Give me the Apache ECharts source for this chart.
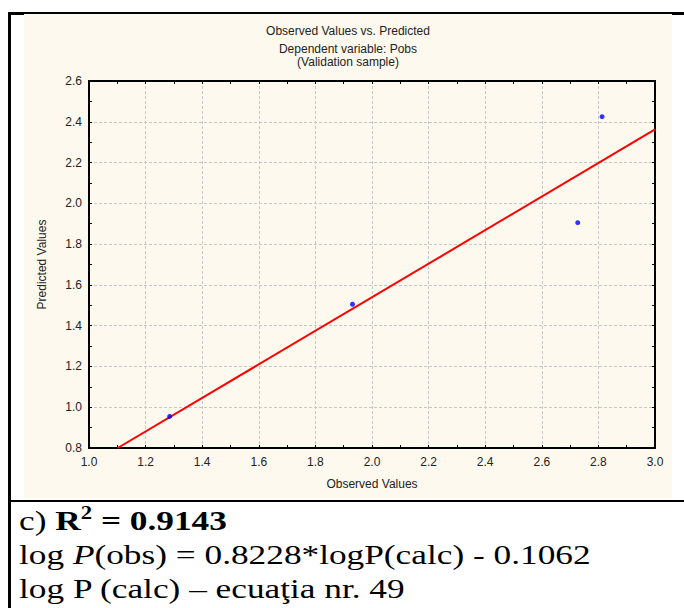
<!DOCTYPE html>
<html>
<head>
<meta charset="utf-8">
<script src="https://cdn.jsdelivr.net/npm/echarts@6/dist/echarts.min.js"></script>
<style>
  body { margin: 0; background: #fff; width: 684px; height: 608px; position: relative; overflow: hidden; }
  .rule { position: absolute; background: #000; }
  #chart { position: absolute; left: 24px; top: 14px; width: 648px; height: 484px; background: #fdf9ee; }
  .note { position: absolute; left: 19px; font-family: "Liberation Serif", "Times New Roman", serif; font-size: 28px; color: #000; white-space: nowrap; line-height: 33px; transform: scaleX(1.26); transform-origin: 0 0; }
</style>
</head>
<body>
<div class="rule" style="left:8px; top:12px; width:676px; height:3px;"></div>
<div class="rule" style="left:8px; top:12px; width:3px; height:596px;"></div>
<div class="rule" style="left:8px; top:500px; width:676px; height:2px;"></div>
<div id="chart"></div>
<div class="note" style="top:504px;">c) <b>R<sup style="font-size:18px; vertical-align: 11px; line-height:0">2</sup> = 0.9143</b></div>
<div class="note" style="top:538px;">log <i>P</i>(obs) = 0.8228*logP(calc) - 0.1062</div>
<div class="note" style="top:572px;">log P (calc) – ecuaţia nr. 49</div>
<script>
    // validation sample: observed vs predicted
    var observed = [1.285, 1.931, 2.727, 2.813];
    var predicted = [0.955, 1.505, 1.905, 2.425];
    // fitted line from the stated equation
    var slope = 0.8228;
    var intercept = -0.1062;
    var fitX = [(0.8 - intercept) / slope, 3.0];

    var points = [];
    for (var i = 0; i < observed.length; i++) {
        points.push([observed[i], predicted[i]]);
    }
    var fitLine = [];
    for (var j = 0; j < fitX.length; j++) {
        fitLine.push([fitX[j], slope * fitX[j] + intercept]);
    }

    var font = '"Liberation Sans", Arial, sans-serif';
    var dark = '#222';
    function frameAxis(pos) {
        return {
            type: 'value', position: pos, min: pos == 'top' || pos == 'bottom' ? 1 : 0.8,
            max: pos == 'top' || pos == 'bottom' ? 3 : 2.6, interval: 0.2,
            axisLine: { show: true, onZero: false, lineStyle: { color: '#000', width: 2 } },
            axisTick: { show: true, inside: true, length: 3, lineStyle: { color: '#000' } },
            minorTick: { show: true, splitNumber: 2, length: 3, lineStyle: { color: '#000' } },
            axisLabel: { show: false },
            splitLine: { show: false }
        };
    }

    var chart = echarts.init(document.getElementById('chart'), null, { renderer: 'svg' });
    chart.setOption({
        animation: false,
        title: {
            text: 'Observed Values vs. Predicted',
            subtext: 'Dependent variable: Pobs\n(Validation sample)',
            left: 'center',
            top: 5,
            itemGap: 4,
            textStyle: { fontFamily: font, fontSize: 12, fontWeight: 'normal', color: dark, lineHeight: 14 },
            subtextStyle: { fontFamily: font, fontSize: 12, color: dark, lineHeight: 13 }
        },
        grid: { left: 65, right: 17, top: 67, bottom: 50 },
        xAxis: [{
            type: 'value',
            min: 1, max: 3, interval: 0.2,
            name: 'Observed Values',
            nameLocation: 'middle',
            nameGap: 30,
            nameTextStyle: { fontFamily: font, fontSize: 12, color: dark },
            axisLine: { show: true, onZero: false, lineStyle: { color: '#000', width: 2 } },
            axisTick: { show: true, inside: true, length: 3, lineStyle: { color: '#000' } },
            minorTick: { show: true, splitNumber: 2, length: 3, lineStyle: { color: '#000' } },
            axisLabel: { fontFamily: font, fontSize: 12, color: dark, margin: 8,
                formatter: function (v) { return v.toFixed(1); } },
            splitLine: { show: true, lineStyle: { color: '#c8c8c8', type: [3, 2] } }
        }, frameAxis('top')],
        yAxis: [{
            type: 'value',
            min: 0.8, max: 2.6, interval: 0.2,
            name: 'Predicted Values',
            nameLocation: 'middle',
            nameGap: 41,
            nameTextStyle: { fontFamily: font, fontSize: 12, color: dark },
            axisLine: { show: true, onZero: false, lineStyle: { color: '#000', width: 2 } },
            axisTick: { show: true, inside: true, length: 3, lineStyle: { color: '#000' } },
            minorTick: { show: true, splitNumber: 2, length: 3, lineStyle: { color: '#000' } },
            axisLabel: { fontFamily: font, fontSize: 12, color: dark, margin: 7,
                formatter: function (v) { return v.toFixed(1); } },
            splitLine: { show: true, lineStyle: { color: '#c8c8c8', type: [3, 2] } }
        }, frameAxis('right')],
        series: [{
            type: 'line',
            data: fitLine,
            showSymbol: false,
            lineStyle: { color: '#ff0000', width: 2 },
            z: 3
        }, {
            type: 'scatter',
            data: points,
            symbolSize: 5,
            itemStyle: { color: '#0000ff' },
            z: 4
        }]
    });
</script>
</body>
</html>
